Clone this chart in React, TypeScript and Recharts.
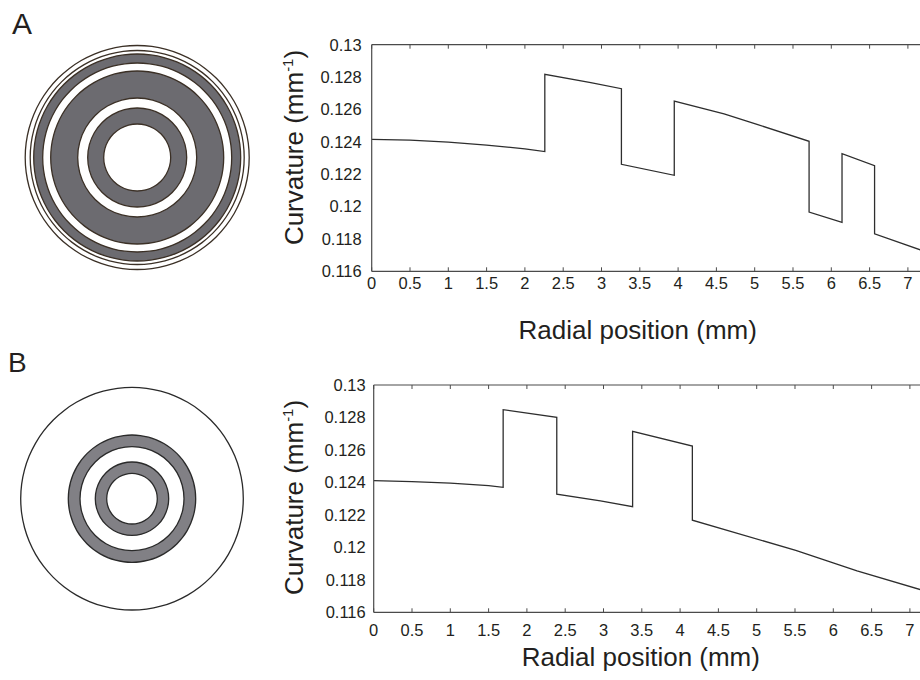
import React from 'react';
import { LineChart, Line, XAxis, YAxis, Label, PieChart, Pie, ReferenceLine } from 'recharts';

// ---- Data ----
const radialA = [0, 0.5, 1, 1.5, 2, 2.26, 2.26, 2.86, 3.26, 3.26, 3.95, 3.95, 4.6, 5.03, 5.71, 5.71, 6.14, 6.14, 6.565, 6.565, 7.166, 7.5];
const curvatureA = [0.12415, 0.1241, 0.12398, 0.1238, 0.12356, 0.1234, 0.12817, 0.12766, 0.12728, 0.12261, 0.12193, 0.12652, 0.12572, 0.12508, 0.12403, 0.11966, 0.11903, 0.12327, 0.12253, 0.11832, 0.11732, 0.11672];

const radialB = [0, 0.5, 1, 1.5, 1.69, 1.69, 2.39, 2.39, 2.96, 3.38, 3.38, 4.16, 4.16, 5.51, 6.31, 7.135, 7.5];
const curvatureB = [0.12411, 0.12405, 0.12395, 0.1238, 0.1237, 0.12848, 0.12801, 0.12327, 0.12286, 0.12251, 0.12715, 0.12624, 0.12167, 0.11982, 0.11855, 0.1174, 0.11688];

const xTicks = [0, 0.5, 1, 1.5, 2, 2.5, 3, 3.5, 4, 4.5, 5, 5.5, 6, 6.5, 7];
const yTicks = [0.116, 0.118, 0.12, 0.122, 0.124, 0.126, 0.128, 0.13];

// lens zone schematics: shaded bands [outer, inner] and zone edges (radius)
const lensABands = [[103.5, 94.5], [86.5, 59.5], [49.5, 33.5]];
const lensAEdges = [112, 107, 103.5, 94.5, 86.5, 59.5, 49.5, 33.5];
const lensBBands = [[63.7, 52], [36.7, 25.3]];
const lensBEdges = [111.3, 63.7, 52, 36.7, 25.3];

const dataA = radialA.map((r, i) => ({ r, c: curvatureA[i] }));
const dataB = radialB.map((r, i) => ({ r, c: curvatureB[i] }));

const FONT = '"Liberation Sans", Arial, Helvetica, sans-serif';
const TEXT = '#231f20';
const AXIS = '#4a4a4a';
const ring = [{ name: 'zone', value: 1 }];

function Lens({ top, cx, cy, bands, edges, fill, edgeColor }: any) {
  return (
    <div style={{ position: 'absolute', left: 0, top }}>
      <PieChart width={270} height={330} margin={{ top: 0, right: 0, bottom: 0, left: 0 }}>
        {bands.map((b: number[], i: number) => (
          <Pie key={'b' + i} data={ring} dataKey="value" cx={cx} cy={cy} outerRadius={b[0]} innerRadius={b[1]}
            startAngle={90} endAngle={450} fill={fill} stroke="none" isAnimationActive={false} />
        ))}
        {edges.map((e: number, i: number) => (
          <Pie key={'e' + i} data={ring} dataKey="value" cx={cx} cy={cy} outerRadius={e + 0.65} innerRadius={e - 0.65}
            startAngle={90} endAngle={450} fill={edgeColor} stroke="none" isAnimationActive={false} />
        ))}
      </PieChart>
    </div>
  );
}

function makeXTick(plotTop: number, plotBottom: number) {
  return (props: any) => {
    const { x, y, payload } = props;
    return (
      <g>
        <line x1={x} x2={x} y1={plotBottom} y2={plotBottom - 4} stroke={AXIS} strokeWidth={1} />
        <line x1={x} x2={x} y1={plotTop} y2={plotTop + 4} stroke={AXIS} strokeWidth={1} />
        <text x={x} y={y} dy="0.71em" textAnchor="middle" fontSize={16.5} fill={TEXT} fontFamily={FONT}>
          {String(payload.value)}
        </text>
      </g>
    );
  };
}

function CurvePanel({ data, left, top, axisW, marginTop, plotH, tickGapX, tickGapY, xLab, yLab }: any) {
  const width = 700;
  const plotW = 7.5 * 76.6;
  const xAxisH = 80;
  const height = marginTop + plotH + xAxisH;
  const tickStyle = { fontSize: 16.5, fill: TEXT, fontFamily: FONT };
  return (
    <div style={{ position: 'absolute', left, top }}>
      <LineChart width={width} height={height} data={data}
        margin={{ top: marginTop, right: width - axisW - plotW, bottom: 0, left: 0 }}>
        <XAxis xAxisId="b" type="number" dataKey="r" domain={[0, 7.5]} ticks={xTicks} allowDataOverflow
          tickLine={false} tickSize={0} tickMargin={tickGapX} height={xAxisH} interval={0}
          axisLine={{ stroke: AXIS, strokeWidth: 1.2 }} tick={makeXTick(marginTop, marginTop + plotH)}>
          <Label content={() => (
            <text x={xLab[0]} y={xLab[1]} textAnchor="middle" fontSize={26} fill={TEXT} fontFamily={FONT}>
              Radial position (mm)
            </text>
          )} />
        </XAxis>
        <YAxis yAxisId="l" type="number" domain={[0.116, 0.13]} ticks={yTicks} allowDataOverflow width={axisW}
          tickLine={false} tickSize={0} tickMargin={tickGapY} interval={0}
          axisLine={{ stroke: AXIS, strokeWidth: 1.2 }} tick={tickStyle} tickFormatter={(v: number) => String(v)}>
          <Label content={() => (
            <text x={yLab[0]} y={yLab[1]} textAnchor="middle" fontSize={26} fill={TEXT} fontFamily={FONT}
              transform={`rotate(-90, ${yLab[0]}, ${yLab[1]})`}>
              Curvature (mm<tspan dy={-10} fontSize={15}>-1</tspan><tspan dy={10}>)</tspan>
            </text>
          )} />
        </YAxis>
        <ReferenceLine xAxisId="b" yAxisId="l" y={0.13} stroke={AXIS} strokeWidth={1.2} ifOverflow="extendDomain" />
        <Line xAxisId="b" yAxisId="l" type="linear" dataKey="c" stroke="#2e2e2e" strokeWidth={1.3}
          dot={false} activeDot={false} isAnimationActive={false} />
      </LineChart>
    </div>
  );
}

export default function App() {
  return (
    <div style={{ position: 'absolute', left: 0, top: 0, width: 920, height: 680, overflow: 'hidden', background: '#fff', fontFamily: FONT }}>
      <Lens top={0} cx={137.2} cy={157.5} bands={lensABands} edges={lensAEdges} fill="#6c6b70" edgeColor="#3b3026" />
      <Lens top={330} cx={132} cy={168.7} bands={lensBBands} edges={lensBEdges} fill="#818085" edgeColor="#2a2a2a" />
      <svg width={920} height={680} style={{ position: 'absolute', left: 0, top: 0, pointerEvents: 'none' }}>
        <text x={12} y={34} fontSize={30} fill={TEXT} fontFamily={FONT}>A</text>
        <text x={8} y={372} fontSize={28} fill={TEXT} fontFamily={FONT}>B</text>
      </svg>
      <CurvePanel data={dataA} left={270} top={30} axisW={101.7} marginTop={14.7} plotH={226.6}
        tickGapX={6} tickGapY={10} xLab={[367.7, 309]} yLab={[33.5, 117.5]} />
      <CurvePanel data={dataB} left={270} top={360} axisW={103.7} marginTop={25} plotH={227.3}
        tickGapX={12} tickGapY={8} xLab={[370.8, 306]} yLab={[33.5, 137.5]} />
    </div>
  );
}
